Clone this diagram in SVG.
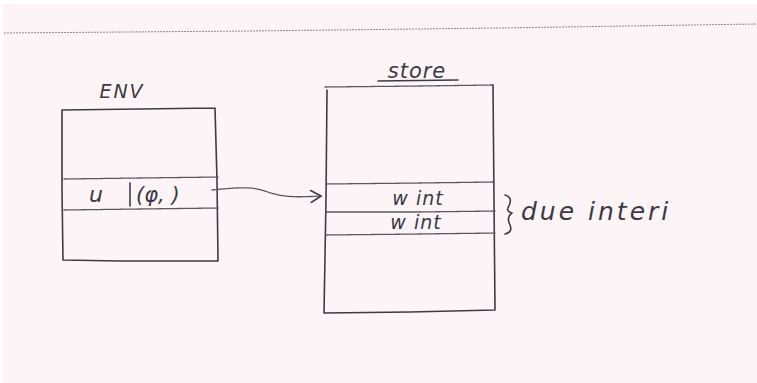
<svg xmlns="http://www.w3.org/2000/svg" width="757" height="383" viewBox="0 0 757 383">
<style>
.ln{fill:none;stroke:#3c3c44;stroke-width:1.6;stroke-linecap:round;stroke-linejoin:round}
.dl{fill:none;stroke:#55555c;stroke-width:1.3;stroke-dasharray:3 1;stroke-linecap:round}
.tx{font-family:"DejaVu Sans","Liberation Sans",sans-serif;fill:#3a3a44;font-style:italic}
</style>
<defs>
<marker id="ah" markerWidth="14" markerHeight="14" refX="11" refY="7" orient="auto" markerUnits="userSpaceOnUse">
<path d="M1,1 L11,7 L1,13" fill="none" stroke="#3c3c44" stroke-width="1.6" stroke-linecap="round"/>
</marker>
</defs>
<rect x="0" y="0" width="757" height="383" fill="#ffffff"/>
<rect x="3" y="4" width="754" height="379" fill="#fdf4f7"/>
<path d="M4,33 L250,31 L500,28 L757,24" fill="none" stroke="#8a8a90" stroke-width="1" stroke-dasharray="2 1"/>
<g id="env">
<text class="tx" x="122" y="98" font-size="19" text-anchor="middle" letter-spacing="2">ENV</text>
<path class="ln" d="M62,110 L140,109 L215,108 M215,108 L217,180 L218,261 M62,110 L62,190 L63,260 L120,261 L218,261"/>
<path class="dl" d="M64,179 L140,178 L218,177"/>
<path class="dl" d="M64,210 L140,209 L218,208"/>
<text class="tx" x="89" y="202" font-size="22">u</text>
<path class="ln" d="M130,183 L130,206"/>
<text class="tx" x="136" y="202" font-size="21">(φ,  )</text>
</g>
<g id="store">
<text class="tx" x="417" y="78" font-size="21" text-anchor="middle" letter-spacing="1">store</text>
<path class="ln" d="M378,81 L458,80"/>
<path class="dl" d="M325,87 L420,86 L493,85"/>
<path class="ln" d="M327,90 L326,200 L324,313 M493,85 L494,200 L495,310 M324,313 L410,312 L495,310"/>
<path class="dl" d="M326,184 L420,183 L494,182"/>
<path class="dl" d="M326,212 L420,212 L495,211"/>
<path class="dl" d="M326,235 L420,234 L495,233"/>
<text class="tx" x="418" y="205" font-size="19" text-anchor="middle" letter-spacing="1">w int</text>
<text class="tx" x="416" y="229" font-size="19" text-anchor="middle" letter-spacing="1">w int</text>
</g>
<g id="brace-label">
<path class="ln" d="M505,195 Q513,197 509,206 Q505,211 512,213 Q506,217 510,225 Q513,232 505,234"/>
<text class="tx" x="521" y="220" font-size="25" letter-spacing="3">due interi</text>
</g>
<g id="connectors">
<path class="dl" d="M212,190 C250,186 255,188 268,192 C285,198 300,197 321,196" marker-end="url(#ah)"/>
</g>
</svg>
